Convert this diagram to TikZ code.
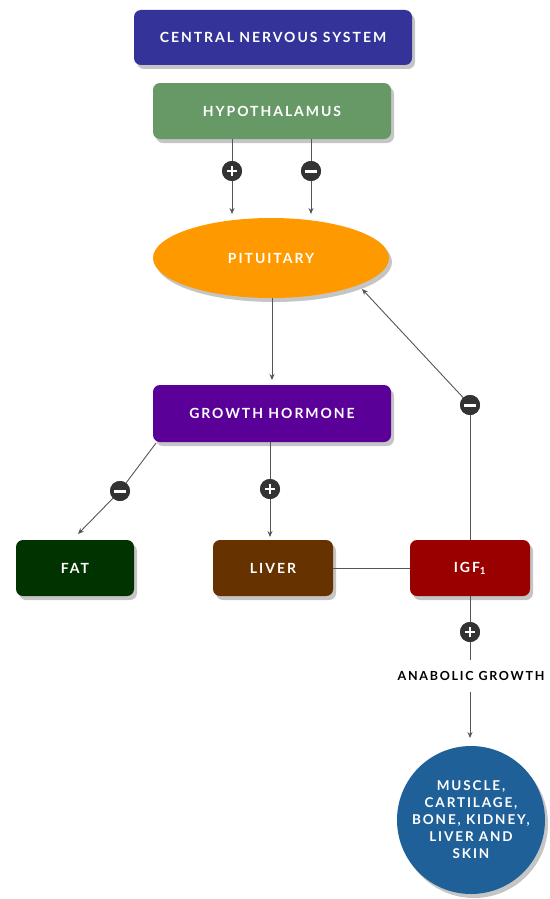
\documentclass[tikz,border=0pt]{standalone}
\usepackage{fontspec}
\newfontfamily\lbl{Lato}[LetterSpace=14]
\usetikzlibrary{shadows,arrows.meta,shapes.geometric}
\definecolor{cnsc}{HTML}{333399}
\definecolor{hypc}{HTML}{669966}
\definecolor{pitc}{HTML}{FF9900}
\definecolor{ghc}{HTML}{5A0099}
\definecolor{fatc}{HTML}{003300}
\definecolor{livc}{HTML}{663300}
\definecolor{igfc}{HTML}{990000}
\definecolor{musc}{HTML}{1F6099}
\definecolor{linec}{HTML}{555555}
\definecolor{signc}{HTML}{333333}
\tikzset{
  shd/.style={drop shadow={opacity=0.45,shadow xshift=3pt,shadow yshift=-4pt}},
  lblfont/.style={font=\lbl\bfseries\fontsize{14}{16}\selectfont},
  box/.style={rounded corners=7pt,shd,text=white,lblfont,inner sep=0pt},
  conn/.style={draw=linec,line width=0.9pt},
  arr/.style={conn,-{Stealth[length=6pt,width=5pt]}},
  sign/.style={circle,fill=signc,minimum size=20pt,inner sep=0pt},
}
\newcommand{\plussign}[1]{\draw[white,line width=2.2pt] ([xshift=-5pt]#1.center) -- ([xshift=5pt]#1.center) ([yshift=-5pt]#1.center) -- ([yshift=5pt]#1.center);}
\newcommand{\minussign}[1]{\draw[white,line width=3pt] ([xshift=-6pt]#1.center) -- ([xshift=6pt]#1.center);}
\begin{document}
\begin{tikzpicture}[x=1pt,y=-1pt]
\useasboundingbox[fill=white] (0,0) rectangle (549,899);
% boxes
\node[box,fill=cnsc,minimum width=278pt,minimum height=55pt] (cns) at (273,37.5) {CENTRAL NERVOUS SYSTEM};
\node[box,fill=hypc,minimum width=238pt,minimum height=56pt] (hyp) at (272,111) {HYPOTHALAMUS};
\node[ellipse,fill=pitc,shd,minimum width=236pt,minimum height=80pt,inner sep=0pt,text=white,lblfont] (pit) at (271,258) {PITUITARY};
\node[box,fill=ghc,minimum width=238pt,minimum height=57pt] (gh) at (272,413.5) {GROWTH HORMONE};
\node[box,fill=fatc,minimum width=118pt,minimum height=56pt] (fat) at (75,568) {FAT};
\node[box,fill=livc,minimum width=120pt,minimum height=56pt] (liv) at (273,568) {LIVER};
\node[box,fill=igfc,minimum width=120pt,minimum height=56pt] (igf) at (470,568) {IGF\textsubscript{1}};
\node[circle,fill=musc,shd,minimum size=148pt,inner sep=0pt,text=white,align=center,font=\lbl\bfseries\fontsize{13.5}{17}\selectfont] (mus) at (471,820) {MUSCLE,\\CARTILAGE,\\BONE, KIDNEY,\\LIVER AND\\SKIN};
\node[font=\lbl\bfseries\fontsize{12.5}{14}\selectfont,text=black,inner sep=1pt] (ana) at (471,676) {ANABOLIC GROWTH};
% signs
\node[sign] (s1) at (232,171) {};
\node[sign] (s2) at (311,171) {};
\node[sign] (s3) at (470,405) {};
\node[sign] (s4) at (120,491) {};
\node[sign] (s5) at (270,489) {};
\node[sign] (s6) at (470,632) {};
% coordinates
\coordinate (e1) at (232,214);
\coordinate (e2) at (311,214);
\coordinate (e3) at (272,380);
\coordinate (e4) at (362,289);
\coordinate (f0) at (156,443);
\coordinate (f1) at (78,534);
\coordinate (l1) at (270,537);
\coordinate (e6) at (470,738);
\coordinate (a1) at (470,660);
\coordinate (a0) at (470,692);
% connectors
\draw[conn] (hyp.south -| s1) -- (s1);
\draw[arr] (s1) -- (e1);
\draw[conn] (hyp.south -| s2) -- (s2);
\draw[arr] (s2) -- (e2);
\draw[arr] (pit.south -| e3) -- (e3);
\draw[conn] (igf.north -| s3) -- (s3);
\draw[arr] (s3) -- (e4);
\draw[conn] (f0) -- (s4);
\draw[arr] (s4) -- (f1);
\draw[conn] (gh.south -| s5) -- (s5);
\draw[arr] (s5) -- (l1);
\draw[conn] (liv.east) -- (igf.west);
\draw[conn] (igf.south -| s6) -- (s6);
\draw[conn] (s6) -- (a1);
\draw[arr] (a0) -- (e6);
% sign glyphs
\node[sign] at (s1) {};\plussign{s1}
\node[sign] at (s2) {};\minussign{s2}
\node[sign] at (s3) {};\minussign{s3}
\node[sign] at (s4) {};\minussign{s4}
\node[sign] at (s5) {};\plussign{s5}
\node[sign] at (s6) {};\plussign{s6}
\end{tikzpicture}
\end{document}
